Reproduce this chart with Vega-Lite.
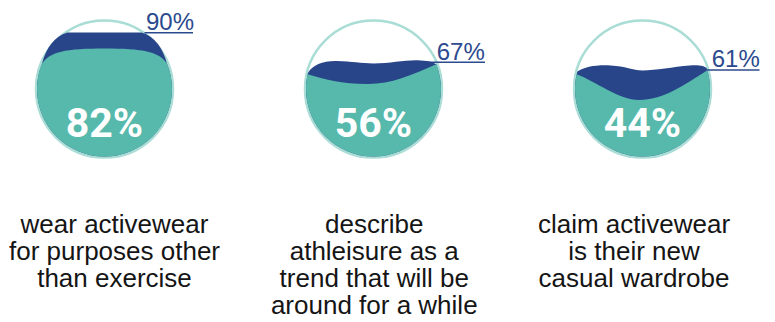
{
  "$schema": "https://vega.github.io/schema/vega-lite/v6.json",
  "width": 775,
  "height": 322,
  "padding": 0,
  "autosize": "none",
  "background": "white",
  "config": {"view": {"stroke": null}},
  "data": {
    "values": [
      {"item": "beyond exercise", "desc": "wear activewear\nfor purposes other\nthan exercise", "inner": 0.82, "outer": 0.90},
      {"item": "lasting trend", "desc": "describe\nathleisure as a\ntrend that will be\naround for a while", "inner": 0.56, "outer": 0.67},
      {"item": "casual wardrobe", "desc": "claim activewear\nis their new\ncasual wardrobe", "inner": 0.44, "outer": 0.61}
    ]
  },
  "layer": [
    {
      "layer": [
        {
          "mark": {"type": "point", "shape": "circle", "size": 18769, "filled": false, "stroke": "#a9ddd5", "strokeWidth": 2.5, "opacity": 1},
          "encoding": {
            "x": {"field": "item", "type": "nominal", "axis": null, "scale": {"type": "point", "domain": ["beyond exercise", "lasting trend", "casual wardrobe"], "range": [104.5, 642.5], "padding": 0}},
            "y": {"datum": 0.46, "type": "quantitative", "axis": null, "scale": {"type": "linear", "domain": [0, 1], "range": [148, 20], "zero": false, "nice": false}}
          }
        },
        {
          "transform": [{"filter": {"field": "item", "equal": "beyond exercise"}}],
          "mark": {"type": "rule", "color": "#2c4a8e", "strokeWidth": 1.5, "xOffset": 40, "x2Offset": 88.5},
          "encoding": {
            "x": {"field": "item", "type": "nominal", "axis": null},
            "x2": {"field": "item"},
            "y": {"field": "outer", "type": "quantitative", "axis": null}
          }
        },
        {
          "transform": [{"filter": {"field": "item", "equal": "lasting trend"}}],
          "mark": {"type": "rule", "color": "#2c4a8e", "strokeWidth": 1.5, "xOffset": 40, "x2Offset": 111.5},
          "encoding": {
            "x": {"field": "item", "type": "nominal", "axis": null},
            "x2": {"field": "item"},
            "y": {"field": "outer", "type": "quantitative", "axis": null}
          }
        },
        {
          "transform": [{"filter": {"field": "item", "equal": "casual wardrobe"}}],
          "mark": {"type": "rule", "color": "#2c4a8e", "strokeWidth": 1.5, "xOffset": 40, "x2Offset": 117},
          "encoding": {
            "x": {"field": "item", "type": "nominal", "axis": null},
            "x2": {"field": "item"},
            "y": {"field": "outer", "type": "quantitative", "axis": null}
          }
        },
        {
          "layer": [
            {
              "mark": {"type": "point", "filled": true, "size": 18225, "fill": "#28458a", "strokeWidth": 0, "opacity": 1},
              "encoding": {
                "x": {"field": "item", "type": "nominal", "axis": null},
                "y": {"datum": 0.46, "type": "quantitative", "axis": null},
                "shape": {
                  "field": "item", "type": "nominal", "legend": null,
                  "scale": {
                    "domain": ["beyond exercise", "lasting trend", "casual wardrobe"],
                    "range": [
                      "M -0.925 -0.38 C -0.87 -0.6 -0.74 -0.79 -0.55 -0.84 L 0.55 -0.84 C 0.74 -0.79 0.87 -0.6 0.925 -0.38 C 0.9745 -0.2595 1 -0.1303 1 0 C 1 0.5523 0.5523 1 0 1 C -0.5523 1 -1 0.5523 -1 0 C -1 -0.1303 -0.9745 -0.2595 -0.925 -0.38 Z",
                      "M -0.97 -0.243 C -0.9 -0.36 -0.75 -0.42 -0.55 -0.416 C -0.3 -0.41 -0.2 -0.38 0 -0.38 C 0.25 -0.38 0.45 -0.43 0.65 -0.426 C 0.8 -0.42 0.88 -0.4 0.93 -0.368 C 0.9764 -0.2508 1 -0.126 1 0 C 1 0.5523 0.5523 1 0 1 C -0.5523 1 -1 0.5523 -1 0 C -1 -0.0819 -0.9899 -0.1635 -0.97 -0.243 Z",
                      "M -0.965 -0.262 C -0.85 -0.33 -0.7 -0.36 -0.47 -0.35 C -0.25 -0.34 -0.15 -0.277 0 -0.277 C 0.2 -0.277 0.45 -0.33 0.7 -0.35 C 0.85 -0.36 0.92 -0.34 0.95 -0.312 C 0.9831 -0.2113 1 -0.106 1 0 C 1 0.5523 0.5523 1 0 1 C -0.5523 1 -1 0.5523 -1 0 C -1 -0.0885 -0.9882 -0.1766 -0.965 -0.262 Z"
                    ]
                  }
                }
              }
            },
            {
              "mark": {"type": "point", "filled": true, "size": 18225, "fill": "#56b9ac", "strokeWidth": 0, "opacity": 1},
              "encoding": {
                "x": {"field": "item", "type": "nominal", "axis": null},
                "y": {"datum": 0.46, "type": "quantitative", "axis": null},
                "shape": {
                  "field": "inner", "type": "nominal", "legend": null,
                  "scale": {
                    "domain": [0.82, 0.56, 0.44],
                    "range": [
                      "M -0.94 -0.341 C -0.85 -0.56 -0.55 -0.6 0 -0.6 C 0.55 -0.6 0.85 -0.56 0.94 -0.341 C 0.9797 -0.2317 1 -0.1163 1 0 C 1 0.5523 0.5523 1 0 1 C -0.5523 1 -1 0.5523 -1 0 C -1 -0.1163 -0.9797 -0.2317 -0.94 -0.341 Z",
                      "M -0.975 -0.222 C -0.75 -0.15 -0.45 -0.08 -0.1 -0.076 C 0.25 -0.07 0.55 -0.2 0.93 -0.368 C 0.9764 -0.2508 1 -0.126 1 0 C 1 0.5523 0.5523 1 0 1 C -0.5523 1 -1 0.5523 -1 0 C -1 -0.0747 -0.9916 -0.1492 -0.975 -0.222 Z",
                      "M -0.975 -0.222 C -0.7 -0.12 -0.35 0.16 -0.05 0.16 C 0.3 0.16 0.6 -0.05 0.96 -0.28 C 0.9865 -0.189 1 -0.0948 1 0 C 1 0.5523 0.5523 1 0 1 C -0.5523 1 -1 0.5523 -1 0 C -1 -0.0747 -0.9916 -0.1492 -0.975 -0.222 Z"
                    ]
                  }
                }
              }
            }
          ],
          "resolve": {"scale": {"shape": "independent"}}
        },
        {
          "mark": {"type": "text", "font": "Roboto, sans-serif", "fontWeight": "bold", "fontSize": 41, "fill": "white", "align": "center", "baseline": "alphabetic", "dy": 48.2},
          "encoding": {
            "x": {"field": "item", "type": "nominal", "axis": null},
            "y": {"datum": 0.46, "type": "quantitative", "axis": null},
            "text": {"field": "inner", "type": "quantitative", "format": ".0%"}
          }
        },
        {
          "transform": [{"filter": {"field": "item", "equal": "beyond exercise"}}],
          "mark": {"type": "text", "font": "Liberation Sans, sans-serif", "fontSize": 24, "fill": "#2c4a8e", "align": "left", "baseline": "alphabetic", "dx": 41.5, "dy": -2.5},
          "encoding": {
            "x": {"field": "item", "type": "nominal", "axis": null},
            "y": {"field": "outer", "type": "quantitative", "axis": null},
            "text": {"field": "outer", "type": "quantitative", "format": ".0%"}
          }
        },
        {
          "transform": [{"filter": {"field": "item", "equal": "lasting trend"}}],
          "mark": {"type": "text", "font": "Liberation Sans, sans-serif", "fontSize": 24, "fill": "#2c4a8e", "align": "left", "baseline": "alphabetic", "dx": 63.2, "dy": -2.5},
          "encoding": {
            "x": {"field": "item", "type": "nominal", "axis": null},
            "y": {"field": "outer", "type": "quantitative", "axis": null},
            "text": {"field": "outer", "type": "quantitative", "format": ".0%"}
          }
        },
        {
          "transform": [{"filter": {"field": "item", "equal": "casual wardrobe"}}],
          "mark": {"type": "text", "font": "Liberation Sans, sans-serif", "fontSize": 24, "fill": "#2c4a8e", "align": "left", "baseline": "alphabetic", "dx": 69.2, "dy": -2.5},
          "encoding": {
            "x": {"field": "item", "type": "nominal", "axis": null},
            "y": {"field": "outer", "type": "quantitative", "axis": null},
            "text": {"field": "outer", "type": "quantitative", "format": ".0%"}
          }
        }
      ]
    },
    {
      "mark": {"type": "text", "font": "Liberation Sans, sans-serif", "fontSize": 26, "lineHeight": 27, "lineBreak": "\n", "fill": "#151515", "align": "center", "baseline": "alphabetic", "dy": 72},
      "encoding": {
        "x": {"field": "item", "type": "nominal", "axis": null, "scale": {"type": "point", "domain": ["beyond exercise", "lasting trend", "casual wardrobe"], "range": [114.5, 634], "padding": 0}},
        "text": {"field": "desc", "type": "nominal"}
      }
    }
  ],
  "resolve": {"scale": {"x": "independent"}}
}
